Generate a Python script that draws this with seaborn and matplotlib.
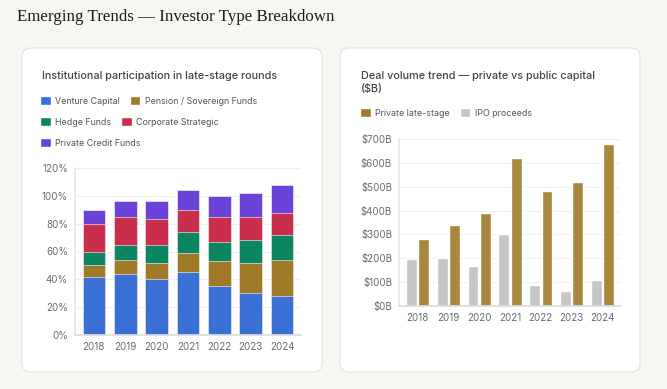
import numpy as np
import pandas as pd
import matplotlib
matplotlib.use("Agg")
import matplotlib.pyplot as plt
import seaborn as sns
from matplotlib.patches import FancyBboxPatch, Patch

# data
years = ["2018", "2019", "2020", "2021", "2022", "2023", "2024"]
venture = [42, 44, 40, 45, 35, 30, 28]
pension = [8, 10, 12, 14, 18, 22, 26]
hedge = [10, 11, 13, 15, 14, 16, 18]
corporate = [20, 20, 18, 16, 18, 17, 16]
private_credit = [10, 11, 13, 14, 15, 17, 20]

private_late = [280, 340, 390, 620, 480, 520, 680]
ipo_proceeds = [195, 200, 168, 300, 87, 62, 110]

investor_names = ["Venture Capital", "Pension / Sovereign Funds", "Hedge Funds",
                  "Corporate Strategic", "Private Credit Funds"]
investor_colors = ["#3a6fd5", "#a07a28", "#0b8562", "#c92f4a", "#6c43d8"]

sns.set_theme(style="white")
plt.rcParams["font.family"] = ["Inter", "DejaVu Sans"]

bg = "#f7f6f2"
tick_col = "#6b6b6b"
grid_col = "#efefef"

fig = plt.figure(figsize=(6.67, 3.89), dpi=100)
fig.patch.set_facecolor(bg)

# cards
for x0 in (0.22, 3.40):
    card = FancyBboxPatch((x0, 0.17), 3.0, 3.24, boxstyle="round,pad=0,rounding_size=0.09",
                          transform=fig.dpi_scale_trans, facecolor="white",
                          edgecolor="#e4e2dc", linewidth=0.8, zorder=-10)
    fig.patches.append(card)

fig.text(17 / 667, 1 - 17 / 389, "Emerging Trends \u2014 Investor Type Breakdown",
         family=["Liberation Serif", "DejaVu Serif"], fontsize=12.2, color="#1c1c1c",
         va="center", ha="left")


def style_axes(ax):
    ax.set_facecolor("white")
    ax.yaxis.grid(True, color=grid_col, linewidth=0.8)
    ax.set_axisbelow(True)
    for s in ("top", "right"):
        ax.spines[s].set_visible(False)
    ax.spines["left"].set_color("#e6e6e6")
    ax.spines["bottom"].set_color("#dcdcdc")
    ax.tick_params(axis="both", length=0, labelsize=7, labelcolor=tick_col, pad=5)
    ax.set_xlabel("")
    ax.set_ylabel("")


leg_kw = dict(loc="center left", frameon=False, fontsize=6.4, handlelength=1.2,
              handleheight=1.2, handletextpad=0.5, columnspacing=1.1,
              labelcolor="#555555", borderaxespad=0, borderpad=0)

# ---- left: stacked participation ----
ax1 = fig.add_axes([75 / 667, 54 / 389, 226 / 667, 167 / 389])
stack = pd.DataFrame({"year": years, investor_names[0]: venture, investor_names[1]: pension,
                      investor_names[2]: hedge, investor_names[3]: corporate,
                      investor_names[4]: private_credit})
cum = stack[investor_names].cumsum(axis=1)
for name, col in reversed(list(zip(investor_names, investor_colors))):
    sns.barplot(x=stack["year"], y=cum[name], color=col, width=0.72, ax=ax1,
                edgecolor="white", linewidth=0.4, saturation=1)
ax1.set_ylim(0, 120)
ax1.set_yticks(range(0, 121, 20))
ax1.set_yticklabels([f"{v}%" for v in range(0, 121, 20)])
ax1.set_xlim(-0.6, 6.6)
style_axes(ax1)

fig.text(42 / 667, 1 - 76 / 389, "Institutional participation in late-stage rounds",
         fontsize=7.8, color="#444444", va="center", weight="medium")

rows = [(0, 1), (2, 3), (4,)]
for r, idx in enumerate(rows):
    handles = [Patch(facecolor=investor_colors[i], label=investor_names[i]) for i in idx]
    fig.legend(handles=handles, bbox_to_anchor=(40 / 667, 1 - (101 + 21 * r) / 389),
               ncol=len(idx), **leg_kw)

# ---- right: deal volume ----
ax2 = fig.add_axes([399 / 667, 83 / 389, 222 / 667, 167 / 389])
vol = pd.DataFrame({"year": years * 2,
                    "series": ["IPO proceeds"] * 7 + ["Private late-stage"] * 7,
                    "value": ipo_proceeds + private_late})
sns.barplot(data=vol, x="year", y="value", hue="series",
            hue_order=["IPO proceeds", "Private late-stage"],
            palette={"IPO proceeds": "#c6c6c6", "Private late-stage": "#a9873f"},
            width=0.8, gap=0.12, saturation=1, ax=ax2, legend=False)
ax2.set_ylim(0, 700)
ax2.set_yticks(range(0, 701, 100))
ax2.set_yticklabels([f"${v}B" for v in range(0, 701, 100)])
ax2.set_xlim(-0.6, 6.6)
style_axes(ax2)

fig.text(361 / 667, 1 - 76 / 389, "Deal volume trend \u2014 private vs public capital",
         fontsize=7.8, color="#444444", va="center", weight="medium")
fig.text(361 / 667, 1 - 89 / 389, "($B)", fontsize=7.8, color="#444444", va="center",
         weight="medium")
fig.legend(handles=[Patch(facecolor="#a07a28", label="Private late-stage"),
                    Patch(facecolor="#c6c6c6", label="IPO proceeds")],
           bbox_to_anchor=(360 / 667, 1 - 113 / 389), ncol=2, **leg_kw)

fig.savefig("out.png", dpi=100, facecolor=bg)
